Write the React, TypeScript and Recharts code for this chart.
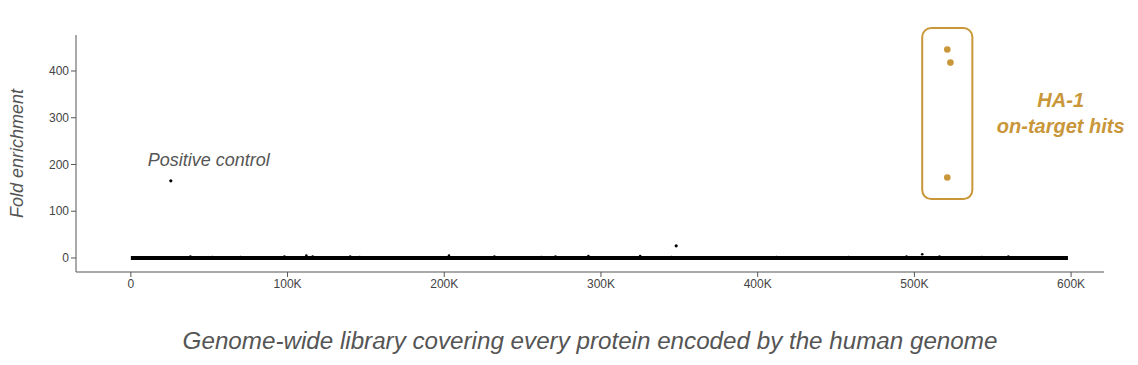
import React from 'react';
import {
  ComposedChart,
  Scatter,
  XAxis,
  YAxis,
  ReferenceArea,
  ReferenceDot
} from 'recharts';

// values
const baselineX = [0, 598000];
const baselineY = [0, 0];

const bumpX = [38000, 52000, 70000, 98000, 112000, 116000, 140000, 146000, 203000, 232000, 262000, 271000, 292000, 325000, 345000, 412000, 458000, 495000, 505000, 516000, 543000, 560000];
const bumpY = [3, 2, 2, 3, 5, 3, 3, 2, 5, 3, 2, 3, 4, 4, 2, 2, 2, 3, 8, 3, 2, 3];

const outlierX = [25500, 348000];
const outlierY = [165, 26];

const hitX = [521000, 523000, 521000];
const hitY = [446, 418, 172];

const xTicks = [0, 100000, 200000, 300000, 400000, 500000, 600000];
const yTicks = [0, 100, 200, 300, 400];

const baseline = baselineX.map((x, i) => ({ x, y: baselineY[i] }));
const bumps = bumpX.map((x, i) => ({ x, y: bumpY[i] }));
const outliers = outlierX.map((x, i) => ({ x, y: outlierY[i] }));
const hits = hitX.map((x, i) => ({ x, y: hitY[i] }));

const GOLD = '#C9963A';
const FONT = '"Liberation Sans", Arial, sans-serif';

const fmtK = (v: number) => (v === 0 ? '0' : `${v / 1000}K`);

const HitsLabel = (props: any) => {
  const { viewBox } = props;
  const cx = viewBox.x + viewBox.width / 2;
  const cy = viewBox.y + viewBox.height / 2;
  return (
    <g fill={GOLD} fontFamily={FONT} fontStyle="italic" fontWeight="bold" fontSize={20} textAnchor="middle">
      <text x={cx - 1} y={cy + 6}>HA-1</text>
      <text x={cx - 1} y={cy + 32}>on-target hits</text>
    </g>
  );
};

const ControlLabel = (props: any) => {
  const { viewBox } = props;
  return (
    <text x={viewBox.x - 23} y={viewBox.y - 15} fill="#555" fontFamily={FONT} fontStyle="italic" fontSize={18}>
      Positive control
    </text>
  );
};

export default function App() {
  return (
    <ComposedChart
      width={1130}
      height={357}
      margin={{ top: 27, right: 34, bottom: 13, left: 0 }}
      style={{ fontFamily: FONT }}
    >
      <XAxis
        type="number"
        dataKey="x"
        domain={[-35000, 621000]}
        ticks={xTicks}
        tickFormatter={fmtK}
        allowDataOverflow
        stroke="#555"
        tick={{ fill: '#444', stroke: 'none', fontSize: 12 }}
        tickSize={5}
        height={80}
        label={{
          value: 'Genome-wide library covering every protein encoded by the human genome',
          position: 'insideBottom',
          offset: 3,
          fill: '#555',
          fontSize: 24.2,
          fontStyle: 'italic'
        }}
      />
      <YAxis
        type="number"
        dataKey="y"
        domain={[-30, 477]}
        ticks={yTicks}
        allowDataOverflow
        stroke="#555"
        tick={{ fill: '#444', stroke: 'none', fontSize: 12 }}
        tickSize={5}
        width={68}
        label={{
          value: 'Fold enrichment',
          angle: -90,
          position: 'insideLeft',
          offset: 9,
          fill: '#555',
          fontSize: 18,
          fontStyle: 'italic',
          style: { textAnchor: 'middle' }
        }}
      />
      <Scatter
        data={baseline}
        line={{ stroke: '#000', strokeWidth: 4 }}
        shape={() => <g />}
        isAnimationActive={false}
      />
      <Scatter data={bumps} fill="#000" shape={(p: any) => <circle cx={p.cx} cy={p.cy} r={1.3} fill="#000" />} isAnimationActive={false} />
      <Scatter data={outliers} fill="#000" shape={(p: any) => <circle cx={p.cx} cy={p.cy} r={1.6} fill="#000" />} isAnimationActive={false} />
      <Scatter data={hits} fill={GOLD} shape={(p: any) => <circle cx={p.cx} cy={p.cy} r={3.3} fill={GOLD} />} isAnimationActive={false} />
      <ReferenceArea
        x1={505000}
        x2={537000}
        y1={126}
        y2={492}
        ifOverflow="visible"
        shape={(p: any) => (
          <rect x={p.x} y={p.y} width={p.width} height={p.height} rx={9} fill="none" stroke={GOLD} strokeWidth={2} />
        )}
      />
      <ReferenceDot x={594000} y={335} r={0} ifOverflow="visible" fill="none" stroke="none" label={<HitsLabel />} />
      <ReferenceDot x={25500} y={165} r={0} ifOverflow="visible" fill="none" stroke="none" label={<ControlLabel />} />
    </ComposedChart>
  );
}
